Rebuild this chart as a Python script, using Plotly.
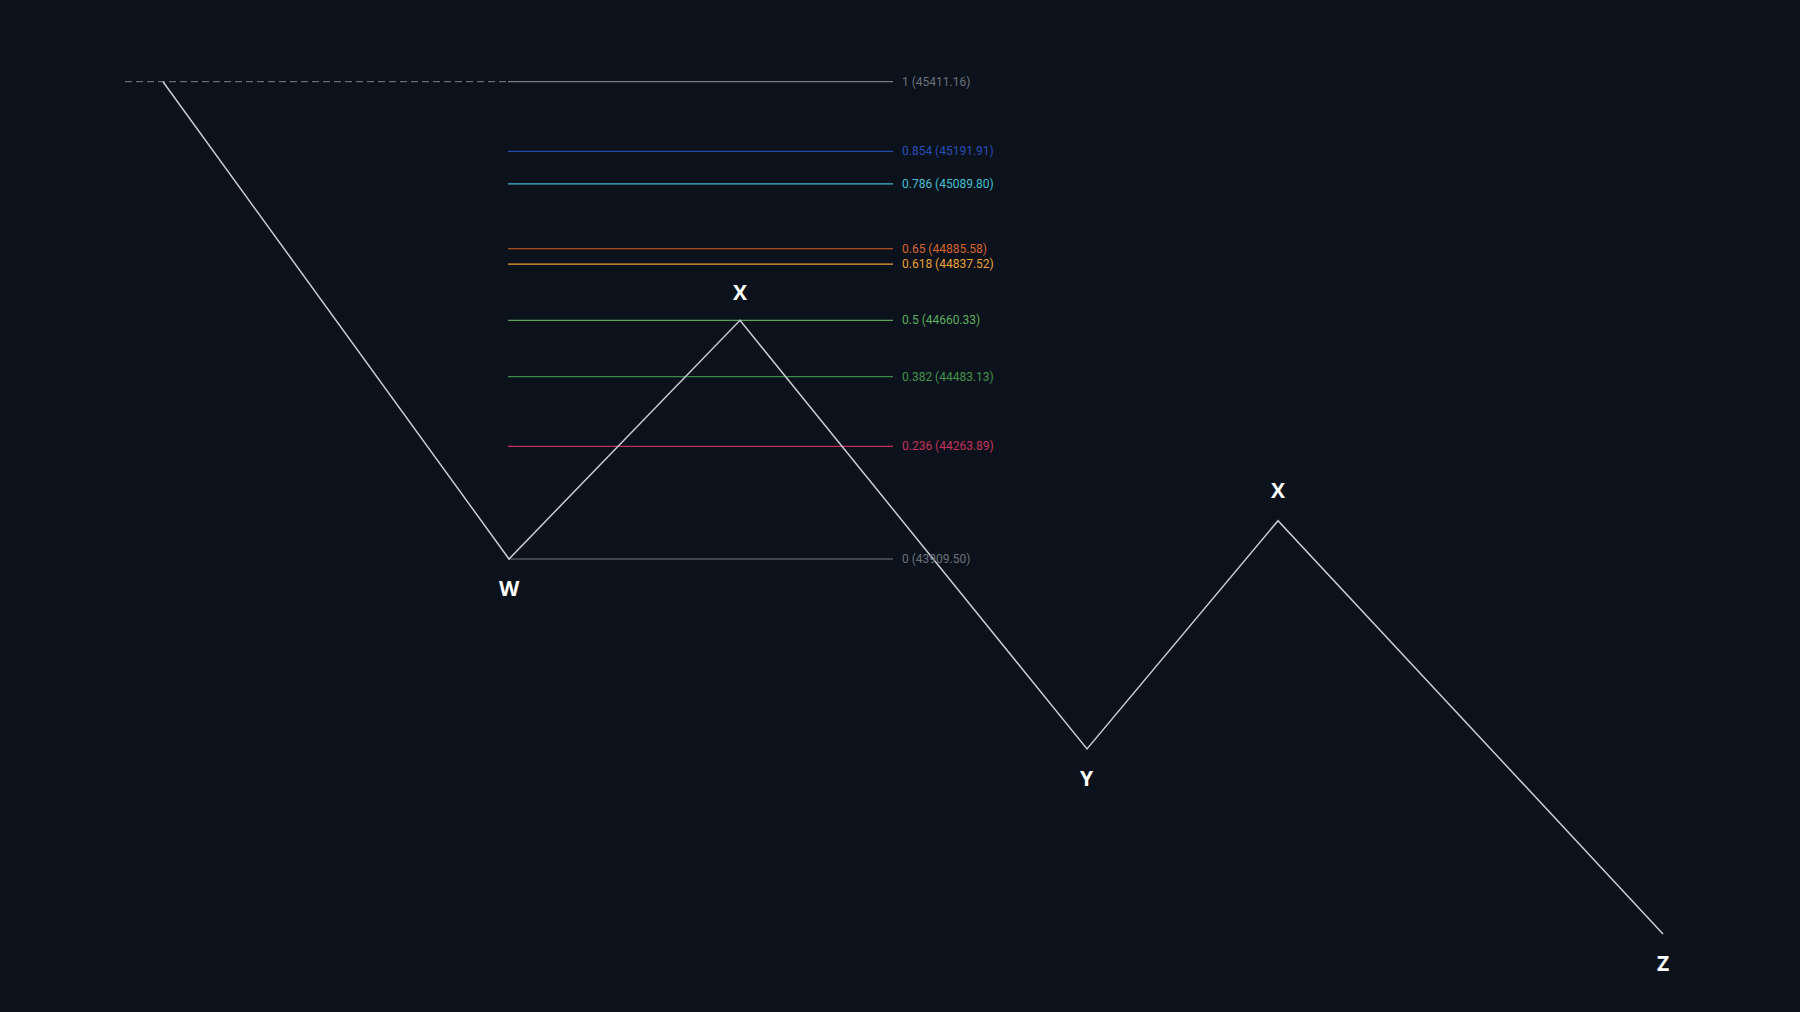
import plotly.graph_objects as go

# Wave pivot points (time index, price)
wave_x = [163, 509, 740, 1087, 1278, 1663]
wave_y = [45411.16, 43909.50, 44660.33, 43312.0, 44030.0, 42730.0]
wave_labels = ["", "W", "X", "Y", "X", "Z"]
label_offset = [0, -29, 28, -29, 31, -29]  # pixel offset of label from pivot

# Fibonacci retracement levels
fib_levels = [1, 0.854, 0.786, 0.65, 0.618, 0.5, 0.382, 0.236, 0]
fib_prices = [45411.16, 45191.91, 45089.80, 44885.58, 44837.52, 44660.33, 44483.13, 44263.89, 43909.50]
fib_colors = ["#767b85", "#2447b0", "#3fb8cc", "#d9622a", "#eda034", "#5aa45c", "#3e8a4c", "#c42f5c", "#767b85"]
fib_text_colors = ["#6b7079", "#2a4db8", "#45c0d2", "#d9642b", "#eda034", "#5fae5f", "#43924f", "#c8325e", "#6b7079"]
fib_x_start, fib_x_end = 508, 893
ext_x_start = 125

BG = "#0b121b"

fig = go.Figure()

# dashed extension of level 1
fig.add_trace(go.Scatter(x=[ext_x_start, fib_x_start], y=[fib_prices[0], fib_prices[0]],
                         mode="lines", line=dict(color="#7d828c", width=1, dash="7px,4px"),
                         hoverinfo="skip", showlegend=False))

for lvl, p, c, tc in zip(fib_levels, fib_prices, fib_colors, fib_text_colors):
    fig.add_trace(go.Scatter(x=[fib_x_start, fib_x_end], y=[p, p], mode="lines",
                             line=dict(color=c, width=1.2), hoverinfo="skip", showlegend=False))
    fig.add_annotation(x=fib_x_end, y=p, xref="x", yref="y", text=f"{lvl:g} ({p:.2f})",
                       showarrow=False, xanchor="left", yanchor="middle", xshift=7,
                       font=dict(family="Roboto", size=12, color=tc))

fig.add_trace(go.Scatter(x=wave_x, y=wave_y, mode="lines",
                         line=dict(color="#c9cdd3", width=1.5), hoverinfo="skip", showlegend=False))

for x, y, t, off in zip(wave_x, wave_y, wave_labels, label_offset):
    if not t:
        continue
    fig.add_annotation(x=x, y=y, xref="x", yref="y", text=f"<b>{t}</b>", showarrow=False,
                       xanchor="center", yanchor="middle", yshift=off,
                       font=dict(family="Open Sans", size=21, color="#ffffff"))

price_per_px = (45411.16 - 43909.50) / (560 - 82.7)
px0 = 559  # pixel row of the 0 level
y_top = 43909.50 + px0 * price_per_px
y_bot = 43909.50 - (1012 - px0) * price_per_px

fig.update_layout(
    width=1800, height=1012,
    margin=dict(l=0, r=0, t=0, b=0),
    paper_bgcolor=BG, plot_bgcolor=BG,
    xaxis=dict(range=[0, 1800], visible=False, fixedrange=True),
    yaxis=dict(range=[y_bot, y_top], visible=False, fixedrange=True),
    showlegend=False,
)

fig.write_html("out.html")
